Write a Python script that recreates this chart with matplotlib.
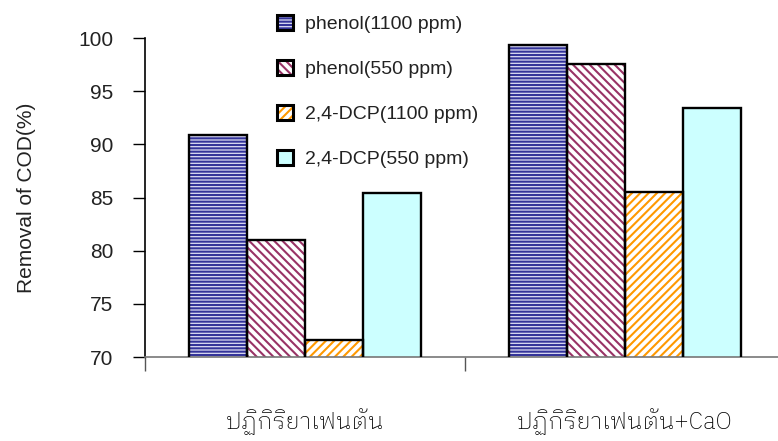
import matplotlib
matplotlib.use("Agg")
import matplotlib.pyplot as plt
from matplotlib.patches import Patch
from matplotlib.legend_handler import HandlerTuple
import numpy as np

plt.rcParams["font.family"] = ["Liberation Sans", "DejaVu Sans"]
plt.rcParams["hatch.linewidth"] = 1.5

categories = ["ปฏิกิริยาเฟนตัน", "ปฏิกิริยาเฟนตัน+CaO"]
series = ["phenol(1100 ppm)", "phenol(550 ppm)", "2,4-DCP(1100 ppm)", "2,4-DCP(550 ppm)"]
phenol_1100 = [90.9, 99.3]
phenol_550 = [81.0, 97.6]
dcp_1100 = [71.6, 85.5]
dcp_550 = [85.4, 93.4]
values = [phenol_1100, phenol_550, dcp_1100, dcp_550]

faces = ["#dcdcf2", "white", "white", "#ccffff"]
hatch_colors = ["#333399", "#993366", "#ff9900", "#ccffff"]
hatches = ["-----", "\\\\\\\\", "////", ""]

fig = plt.figure(figsize=(7.78, 4.41), dpi=100)
ax = fig.add_axes([145 / 778, 84 / 441, 640 / 778, 319 / 441])

x = np.arange(len(categories))
w = 0.182
handles = []
for i, vals in enumerate(values):
    pos = x + (i - 1.5) * w
    # hatched fill first, then a plain black outline on top
    ax.bar(pos, vals, w, color=faces[i], edgecolor=hatch_colors[i],
           hatch=hatches[i], linewidth=0, zorder=2)
    ax.bar(pos, vals, w, fill=False, edgecolor="black", linewidth=1.7, zorder=3)
    h1 = Patch(facecolor=faces[i], edgecolor=hatch_colors[i], hatch=hatches[i], linewidth=0)
    h2 = Patch(fill=False, edgecolor="black", linewidth=2.2)
    handles.append((h1, h2))

ax.set_ylim(70, 100)
ax.set_xlim(-0.5, 1.5)
ax.set_yticks(np.arange(70, 101, 5))
ax.tick_params(axis="y", direction="out", length=9, width=1, labelsize=15,
               labelcolor="#222222", pad=14)
ax.set_ylabel("Removal of COD(%)", fontsize=15, color="#222222", labelpad=30)

ax.set_xticks(x)
ax.set_xticklabels(categories, fontsize=17, color="black", fontweight="light",
                   family=["IBM Plex Sans Thai Looped", "Liberation Sans"])
ax.tick_params(axis="x", which="major", length=0, pad=37)
ax.set_xticks([-0.5, 0.5, 1.5], minor=True)
ax.tick_params(axis="x", which="minor", direction="out", length=10, width=1,
               color="#555555")

for s in ["top", "right"]:
    ax.spines[s].set_visible(False)
ax.spines["left"].set_linewidth(1.2)
ax.spines["bottom"].set_color("#777777")
ax.spines["bottom"].set_linewidth(1.2)

fig.legend(handles, series, handler_map={tuple: HandlerTuple(ndivide=1, pad=0)},
           loc="upper left", bbox_to_anchor=(269 / 778, 1 - 7 / 441),
           frameon=False, fontsize=14, labelcolor="#222222",
           handlelength=0.85, handleheight=0.85, handletextpad=0.6,
           labelspacing=1.36, borderaxespad=0)

fig.savefig("out.png")
